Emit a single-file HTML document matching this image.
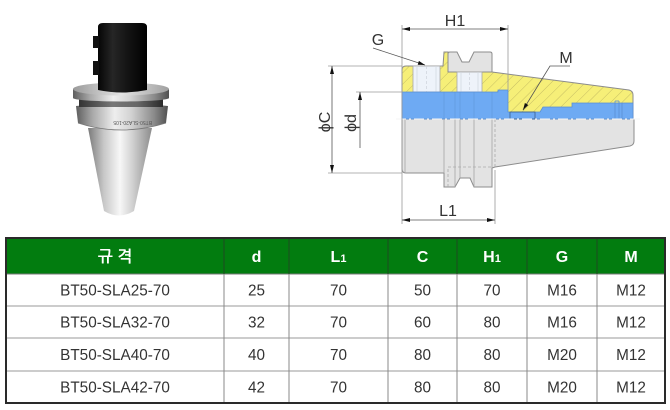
<!DOCTYPE html>
<html><head><meta charset="utf-8">
<style>
html,body{margin:0;padding:0;background:#fff;}
body{width:670px;height:410px;overflow:hidden;}
svg{display:block;}
.t{font-family:"Liberation Sans","NanumGothic","Noto Sans CJK KR",sans-serif;}
</style></head>
<body>
<svg width="670" height="410" viewBox="0 0 670 410" xmlns="http://www.w3.org/2000/svg">
<defs>
  <pattern id="hatch" patternUnits="userSpaceOnUse" width="8" height="8" patternTransform="rotate(45)">
    <rect width="8" height="8" fill="#F6EF78"/>
    <line x1="0" y1="0" x2="0" y2="8" stroke="#C2BA62" stroke-width="0.9"/>
  </pattern>
  <linearGradient id="silver" x1="0" x2="1" y1="0" y2="0">
    <stop offset="0" stop-color="#5e5e5e"/>
    <stop offset="0.18" stop-color="#a9a9a9"/>
    <stop offset="0.42" stop-color="#eeeeee"/>
    <stop offset="0.6" stop-color="#d2d2d2"/>
    <stop offset="0.85" stop-color="#8a8a8a"/>
    <stop offset="1" stop-color="#505050"/>
  </linearGradient>
  <linearGradient id="cone" x1="0" x2="1" y1="0" y2="0">
    <stop offset="0" stop-color="#7a7a7a"/>
    <stop offset="0.25" stop-color="#c8c8c8"/>
    <stop offset="0.5" stop-color="#f7f7f7"/>
    <stop offset="0.7" stop-color="#d0d0d0"/>
    <stop offset="1" stop-color="#8c8c8c"/>
  </linearGradient>
  <linearGradient id="disc" x1="0" x2="1" y1="0" y2="0">
    <stop offset="0" stop-color="#9a9a9a"/>
    <stop offset="0.5" stop-color="#e4e4e4"/>
    <stop offset="1" stop-color="#a0a0a0"/>
  </linearGradient>
  <linearGradient id="groove" x1="0" x2="1" y1="0" y2="0">
    <stop offset="0" stop-color="#333"/>
    <stop offset="0.4" stop-color="#777"/>
    <stop offset="0.7" stop-color="#666"/>
    <stop offset="1" stop-color="#2a2a2a"/>
  </linearGradient>
  <linearGradient id="blk" x1="0" x2="1" y1="0" y2="0">
    <stop offset="0" stop-color="#050505"/>
    <stop offset="0.3" stop-color="#262626"/>
    <stop offset="0.6" stop-color="#141414"/>
    <stop offset="1" stop-color="#000"/>
  </linearGradient>
</defs>

<!-- ============ PHOTO ============ -->
<!-- cone -->
<path d="M88,128 L152,128 L134,211 Q119,220 104,211 Z" fill="url(#cone)"/>
<!-- lower ring -->
<path d="M76,106 Q121,101 168,106 L166,123 Q121,137 78,123 Z" fill="url(#silver)"/>
<path d="M78,123 Q121,137 166,123" fill="none" stroke="#777" stroke-width="0.8"/>
<!-- groove -->
<rect x="79" y="98" width="84" height="9" fill="url(#groove)"/>
<!-- rim of top disc -->
<rect x="73" y="89" width="96" height="9" fill="url(#silver)"/>
<ellipse cx="121" cy="98" rx="48" ry="3.5" fill="url(#silver)"/>
<!-- top disc face -->
<ellipse cx="121" cy="89" rx="48" ry="6.5" fill="url(#disc)"/>
<!-- engraving -->
<text class="t" x="0" y="0" font-size="5" fill="#555" transform="translate(152,121) rotate(180)">BT50-SLA20-105</text>
<!-- black cylinder -->
<path d="M98,27 Q98,23 103,23 L142,23 Q147,23 147,27 L147,90 Q122.5,95 98,90 Z" fill="url(#blk)"/>
<rect x="93" y="36" width="6" height="12" fill="#111"/>
<rect x="93" y="61" width="6" height="14" fill="#111"/>

<!-- ============ DRAWING ============ -->
<!-- bottom gray half -->
<path d="M402,119 L402,169 Q402,173 406,173 L444,173 L444,187 L455,187 L460,178 L470,178 L474,187 L492,187 L492,168 L495,167 L630,146 Q634,145 634,141 L634,119 Z" fill="#E3E3E3" stroke="#8c8c8c" stroke-width="1"/>
<!-- yellow hatched top half -->
<path d="M402,70 Q402,66 406,66 L443,66 L444,52 L448,52 L448,72 L492,72 L629,90 Q633,91 633,95 L633,119 L402,119 Z" fill="url(#hatch)" stroke="#8c8c8c" stroke-width="1"/>
<!-- gray flange top -->
<path d="M448,54 Q448,52 450,52 L457,52 L462,62 L469,62 L474,52 L490,52 Q492,52 492,54 L492,72 L448,72 Z" fill="#E3E3E3" stroke="#8c8c8c" stroke-width="1"/>
<!-- tapped holes -->
<rect x="413" y="66" width="27" height="26" fill="#EEF3FA" stroke="#a8a8a8" stroke-width="0.8"/>
<rect x="457" y="72" width="25" height="20" fill="#EEF3FA" stroke="#a8a8a8" stroke-width="0.8"/>
<line x1="417" y1="66" x2="417" y2="92" stroke="#cfd6df" stroke-width="0.7"/>
<line x1="436" y1="66" x2="436" y2="92" stroke="#cfd6df" stroke-width="0.7"/>
<line x1="426.5" y1="66" x2="426.5" y2="92" stroke="#c9ced6" stroke-width="0.6" stroke-dasharray="3,2"/>
<line x1="461" y1="72" x2="461" y2="92" stroke="#cfd6df" stroke-width="0.7"/>
<line x1="478" y1="72" x2="478" y2="92" stroke="#cfd6df" stroke-width="0.7"/>
<line x1="469.5" y1="72" x2="469.5" y2="92" stroke="#c9ced6" stroke-width="0.6" stroke-dasharray="3,2"/>
<!-- blue bore -->
<path d="M402,92 L498,92 L498,90 L508,90 L508,112 L540,112 L543,107 L572,107 L572,103 L633,103 L633,119 L402,119 Z" fill="#6EAAF3" stroke="#5b8fd2" stroke-width="0.8"/>
<rect x="510" y="112" width="25" height="7" fill="#6EAAF3" stroke="#3d5f8a" stroke-width="0.8"/>
<line x1="615" y1="101" x2="615" y2="119" stroke="#5b8fd2" stroke-width="0.8"/>
<line x1="619" y1="101" x2="619" y2="119" stroke="#5b8fd2" stroke-width="0.8"/>
<line x1="615" y1="101" x2="619" y2="101" stroke="#5b8fd2" stroke-width="0.8"/>
<line x1="622" y1="103" x2="622" y2="119" stroke="#5b8fd2" stroke-width="0.8"/>
<!-- faint vertical lines through bore -->
<g stroke="#5b8fd2" stroke-width="0.6" opacity="0.8">
<line x1="444" y1="92" x2="444" y2="119"/><line x1="455" y1="92" x2="455" y2="119"/>
<line x1="460" y1="92" x2="460" y2="119"/><line x1="474" y1="92" x2="474" y2="119"/>
<line x1="492" y1="92" x2="492" y2="119"/>
</g>
<!-- lines in gray lower half -->
<g stroke="#a6a6a6" stroke-width="0.8">
<line x1="405" y1="119" x2="405" y2="172"/>
<line x1="444" y1="119" x2="444" y2="173"/>
<line x1="455" y1="119" x2="455" y2="187"/>
<line x1="460" y1="119" x2="460" y2="178"/>
<line x1="474" y1="119" x2="474" y2="187"/>
<line x1="492" y1="119" x2="492" y2="168"/>
</g>
<g stroke="#aaa" stroke-width="0.8" stroke-dasharray="3,2" fill="none">
<line x1="495" y1="119" x2="495" y2="167"/>
<path d="M448,187 L448,167 L492,167"/>
</g>
<!-- centerline -->
<line x1="396" y1="119" x2="640" y2="119" stroke="#f4f4f4" stroke-width="1" stroke-dasharray="10,3,2,3"/>

<!-- dimension / extension lines -->
<g stroke="#9a9a9a" stroke-width="0.8" fill="none">
<line x1="402" y1="25" x2="402" y2="224"/>
<line x1="508" y1="25" x2="508" y2="90"/>
<line x1="495" y1="170" x2="495" y2="224"/>
<line x1="328" y1="66" x2="402" y2="66"/>
<line x1="328" y1="173" x2="402" y2="173"/>
<line x1="356" y1="92" x2="402" y2="92"/>
</g>
<g stroke="#555" stroke-width="0.8" fill="none">
<line x1="402" y1="29" x2="508" y2="29"/>
<line x1="402" y1="220" x2="495" y2="220"/>
<line x1="332" y1="66" x2="332" y2="173"/>
<line x1="360" y1="92" x2="360" y2="148"/>
<line x1="373" y1="48" x2="425" y2="65"/>
<polyline points="570,66 550,66 523,110"/>
</g>
<g fill="#111">
<polygon points="402,29 410,27 410,31"/>
<polygon points="508,29 500,27 500,31"/>
<polygon points="402,220 410,218 410,222"/>
<polygon points="495,220 487,218 487,222"/>
<polygon points="332,66 330,74 334,74"/>
<polygon points="332,173 330,165 334,165"/>
<polygon points="360,92 358,100 362,100"/>
<polygon points="425,65 417.7,64.7 418.9,60.9"/>
<polygon points="523,110 528.3,105 524.9,103"/>
</g>
<g class="t" fill="#333" font-size="16" text-anchor="middle">
<text x="455" y="26">H1</text>
<text x="378" y="45">G</text>
<text x="566" y="63">M</text>
<text x="448" y="216">L1</text>
<text x="0" y="0" transform="translate(330,122) rotate(-90)">ϕC</text>
<text x="0" y="0" transform="translate(356,123) rotate(-90)">ϕd</text>
</g>

<!-- ============ TABLE ============ -->
<rect x="6" y="238" width="659" height="165" fill="#fff"/>
<rect x="6" y="238" width="659" height="36" fill="#027C0F"/>
<g stroke="#999" stroke-width="1">
<line x1="6" y1="306" x2="665" y2="306"/>
<line x1="6" y1="338" x2="665" y2="338"/>
<line x1="6" y1="371" x2="665" y2="371"/>
</g>
<line x1="6" y1="274" x2="665" y2="274" stroke="#777" stroke-width="1"/>
<g stroke="#888" stroke-width="1">
<line x1="224" y1="274" x2="224" y2="403"/><line x1="289" y1="274" x2="289" y2="403"/>
<line x1="388" y1="274" x2="388" y2="403"/><line x1="457" y1="274" x2="457" y2="403"/>
<line x1="527" y1="274" x2="527" y2="403"/><line x1="597" y1="274" x2="597" y2="403"/>
</g>
<g stroke="#1f4a22" stroke-width="1">
<line x1="224" y1="238" x2="224" y2="274"/><line x1="289" y1="238" x2="289" y2="274"/>
<line x1="388" y1="238" x2="388" y2="274"/><line x1="457" y1="238" x2="457" y2="274"/>
<line x1="527" y1="238" x2="527" y2="274"/><line x1="597" y1="238" x2="597" y2="274"/>
</g>
<rect x="6" y="238" width="659" height="165" fill="none" stroke="#2a2a2a" stroke-width="2"/>

<g class="t" fill="#fff" font-size="16" font-weight="bold" text-anchor="middle">
<text x="115" y="262">규 격</text>
<text x="256.5" y="262">d</text>
<text x="338.5" y="262">L<tspan font-size="11">1</tspan></text>
<text x="422.5" y="262">C</text>
<text x="492" y="262">H<tspan font-size="11">1</tspan></text>
<text x="562" y="262">G</text>
<text x="631" y="262">M</text>
</g>
<g class="t" fill="#333" font-size="15.3" text-anchor="middle">
<text x="115" y="295.5">BT50-SLA25-70</text>
<text x="256.5" y="295.5">25</text><text x="338.5" y="295.5">70</text><text x="422.5" y="295.5">50</text><text x="492" y="295.5">70</text><text x="562" y="295.5">M16</text><text x="631" y="295.5">M12</text>
<text x="115" y="327.5">BT50-SLA32-70</text>
<text x="256.5" y="327.5">32</text><text x="338.5" y="327.5">70</text><text x="422.5" y="327.5">60</text><text x="492" y="327.5">80</text><text x="562" y="327.5">M16</text><text x="631" y="327.5">M12</text>
<text x="115" y="360">BT50-SLA40-70</text>
<text x="256.5" y="360">40</text><text x="338.5" y="360">70</text><text x="422.5" y="360">80</text><text x="492" y="360">80</text><text x="562" y="360">M20</text><text x="631" y="360">M12</text>
<text x="115" y="392.5">BT50-SLA42-70</text>
<text x="256.5" y="392.5">42</text><text x="338.5" y="392.5">70</text><text x="422.5" y="392.5">80</text><text x="492" y="392.5">80</text><text x="562" y="392.5">M20</text><text x="631" y="392.5">M12</text>
</g>
</svg>
</body></html>
